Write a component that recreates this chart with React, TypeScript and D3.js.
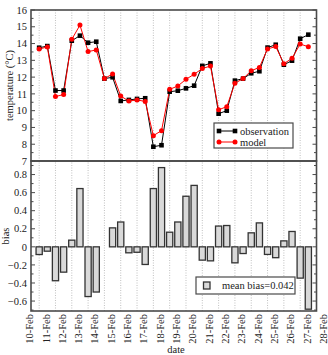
import React from 'react';
import * as d3 from 'd3';

const dayLabels = ['10-Feb', '11-Feb', '12-Feb', '13-Feb', '14-Feb', '15-Feb', '16-Feb', '17-Feb', '18-Feb', '19-Feb', '20-Feb', '21-Feb', '22-Feb', '23-Feb', '24-Feb', '25-Feb', '26-Feb', '27-Feb', '28-Feb'];
const labelDays = [10, 11, 12, 13, 14, 15, 16, 17, 18, 19, 20, 21, 22, 23, 24, 25, 26, 27, 28];
const gridDays = [10.5, 11.5, 12.5, 13.5, 14.5, 15.5, 16.5, 17.5, 18.5, 19.5, 20.5, 21.5, 22.5, 23.5, 24.5, 25.5, 26.5];
const times = [10.5, 11, 11.5, 12, 12.5, 13, 13.5, 14, 14.5, 15, 15.5, 16, 16.5, 17, 17.5, 18, 18.5, 19, 19.5, 20, 20.5, 21, 21.5, 22, 22.5, 23, 23.5, 24, 24.5, 25, 25.5, 26, 26.5, 27];
const observation = [13.75, 13.85, 11.2, 11.2, 14.17, 14.47, 14.05, 14.11, 11.91, 11.99, 10.58, 10.64, 10.7, 10.74, 7.85, 7.94, 11.13, 11.19, 11.33, 11.49, 12.67, 12.82, 9.82, 10.0, 11.79, 11.91, 12.23, 12.35, 13.76, 13.93, 12.74, 12.98, 14.29, 14.53];
const model = [13.67, 13.8, 10.84, 10.96, 14.25, 15.1, 13.52, 13.62, 11.91, 12.19, 10.87, 10.57, 10.64, 10.55, 8.51, 8.81, 11.27, 11.47, 11.87, 12.17, 12.51, 12.66, 10.05, 10.24, 11.63, 11.91, 12.38, 12.58, 13.68, 13.82, 12.8, 13.12, 13.97, 13.81];
const bias = [-0.085, -0.048, -0.375, -0.28, 0.074, 0.645, -0.55, -0.5, 0.0, 0.21, 0.275, -0.066, -0.06, -0.195, 0.645, 0.877, 0.162, 0.275, 0.56, 0.68, -0.147, -0.155, 0.23, 0.236, -0.177, -0.074, 0.155, 0.265, -0.084, -0.12, 0.066, 0.17, -0.346, -0.69];
const tempTicks = [7, 8, 9, 10, 11, 12, 13, 14, 15, 16];
const tempMinor = [7.5, 8.5, 9.5, 10.5, 11.5, 12.5, 13.5, 14.5, 15.5];
const biasTicks = [-0.6, -0.4, -0.2, 0, 0.2, 0.4, 0.6, 0.8];
const biasMinor = [-0.7, -0.5, -0.3, -0.1, 0.1, 0.3, 0.5, 0.7, 0.9];
const meanBiasText = 'mean bias=0.042';

const L = 31, R = 316.5, T = 10, MID = 161, B = 311;
const FONT = '"Liberation Serif", "Times New Roman", serif';
const AX = '#4a4a4a';

export default function App() {
  const x = d3.scaleLinear().domain([10, 27.5]).range([L, R]);
  const yT = d3.scaleLinear().domain([7, 16]).range([MID, T]);
  const yB = d3.scaleLinear().domain([-0.71, 0.95]).range([B, MID]);

  const obsLine = d3.line<number>().x((_, i) => x(times[i])).y(d => yT(d))(observation) || '';
  const modLine = d3.line<number>().x((_, i) => x(times[i])).y(d => yT(d))(model) || '';
  const bw = 6.2;
  const ms = 4.6;

  const yTicks = (scale: any, majors: number[], minors: number[], fmt: (v: number) => string) => (
    <g>
      {majors.map(v => (
        <g key={'M' + v}>
          <line x1={L} x2={L + 4} y1={scale(v)} y2={scale(v)} stroke={AX} strokeWidth={1} />
          <line x1={R - 4} x2={R} y1={scale(v)} y2={scale(v)} stroke={AX} strokeWidth={1} />
          <text x={L - 4} y={scale(v)} dy="0.35em" textAnchor="end" fontSize={10.5} fontFamily={FONT} fill="#222">{fmt(v)}</text>
        </g>
      ))}
      {minors.map(v => (
        <g key={'m' + v}>
          <line x1={L} x2={L + 2.5} y1={scale(v)} y2={scale(v)} stroke={AX} strokeWidth={1} />
          <line x1={R - 2.5} x2={R} y1={scale(v)} y2={scale(v)} stroke={AX} strokeWidth={1} />
        </g>
      ))}
    </g>
  );

  return (
    <svg width={328} height={355} style={{ position: 'absolute', left: 0, top: 0, background: '#fff' }}>
      <rect x={0} y={0} width={328} height={355} fill="#fff" />
      {gridDays.map(d => (
        <line key={d} x1={x(d)} x2={x(d)} y1={T} y2={B} stroke="#b0b0b0" strokeWidth={0.8} strokeDasharray="1,1.5" />
      ))}
      {/* top panel */}
      <path d={obsLine} fill="none" stroke="#000" strokeWidth={1} />
      <path d={modLine} fill="none" stroke="#f00" strokeWidth={1} />
      {observation.map((v, i) => (
        <rect key={'o' + i} x={x(times[i]) - ms / 2} y={yT(v) - ms / 2} width={ms} height={ms} fill="#000" />
      ))}
      {model.map((v, i) => (
        <circle key={'c' + i} cx={x(times[i])} cy={yT(v)} r={2.5} fill="#f00" />
      ))}
      {/* bottom panel bars */}
      {bias.map((v, i) => (
        <rect key={'b' + i} x={x(times[i]) - bw / 2} y={Math.min(yB(v), yB(0))} width={bw} height={Math.abs(yB(v) - yB(0))} fill="#d9d9d9" stroke="#333" strokeWidth={1.3} />
      ))}
      {/* frames */}
      <rect x={L} y={T} width={R - L} height={MID - T} fill="none" stroke={AX} strokeWidth={1.6} />
      <rect x={L} y={MID} width={R - L} height={B - MID} fill="none" stroke={AX} strokeWidth={1.6} />
      {yTicks(yT, tempTicks, tempMinor, v => String(v))}
      {yTicks(yB, biasTicks, biasMinor, v => (v === 0 ? '0' : d3.format('.1f')(v)))}
      {/* x labels */}
      {labelDays.map((d, i) => (
        <text key={d} transform={`translate(${x(d) - 1.5},${B + 3}) rotate(-90)`} dy="0.35em" textAnchor="end" fontSize={10.5} fontFamily={FONT} fill="#222">{dayLabels[i]}</text>
      ))}
      <text x={176} y={353} textAnchor="middle" fontSize={10.5} fontFamily={FONT} fill="#222">date</text>
      <text transform={`translate(13,${(T + MID) / 2}) rotate(-90)`} textAnchor="middle" fontSize={10.5} fontFamily={FONT} fill="#222">temperature (°C)</text>
      <text transform={`translate(9,${(MID + B) / 2}) rotate(-90)`} textAnchor="middle" fontSize={10.5} fontFamily={FONT} fill="#222">bias</text>
      {/* top legend */}
      <rect x={214} y={123} width={79} height={25} fill="#fff" stroke={AX} strokeWidth={1.2} />
      <line x1={219} x2={235} y1={131} y2={131} stroke="#000" strokeWidth={1} />
      <rect x={219 - ms / 2} y={131 - ms / 2} width={ms} height={ms} fill="#000" />
      <rect x={235 - ms / 2} y={131 - ms / 2} width={ms} height={ms} fill="#000" />
      <text x={240} y={131} dy="0.35em" fontSize={10.5} fontFamily={FONT} fill="#222">observation</text>
      <line x1={219} x2={235} y1={142} y2={142} stroke="#f00" strokeWidth={1} />
      <circle cx={219} cy={142} r={2.5} fill="#f00" />
      <circle cx={235} cy={142} r={2.5} fill="#f00" />
      <text x={240} y={142} dy="0.35em" fontSize={10.5} fontFamily={FONT} fill="#222">model</text>
      {/* bottom legend */}
      <rect x={196} y={277} width={99} height={17} fill="#fff" stroke={AX} strokeWidth={1.2} />
      <rect x={203.5} y={282} width={6.5} height={7} fill="#d9d9d9" stroke="#333" strokeWidth={1.3} />
      <text x={222} y={285.5} dy="0.35em" fontSize={10.5} fontFamily={FONT} fill="#222">{meanBiasText}</text>
    </svg>
  );
}
